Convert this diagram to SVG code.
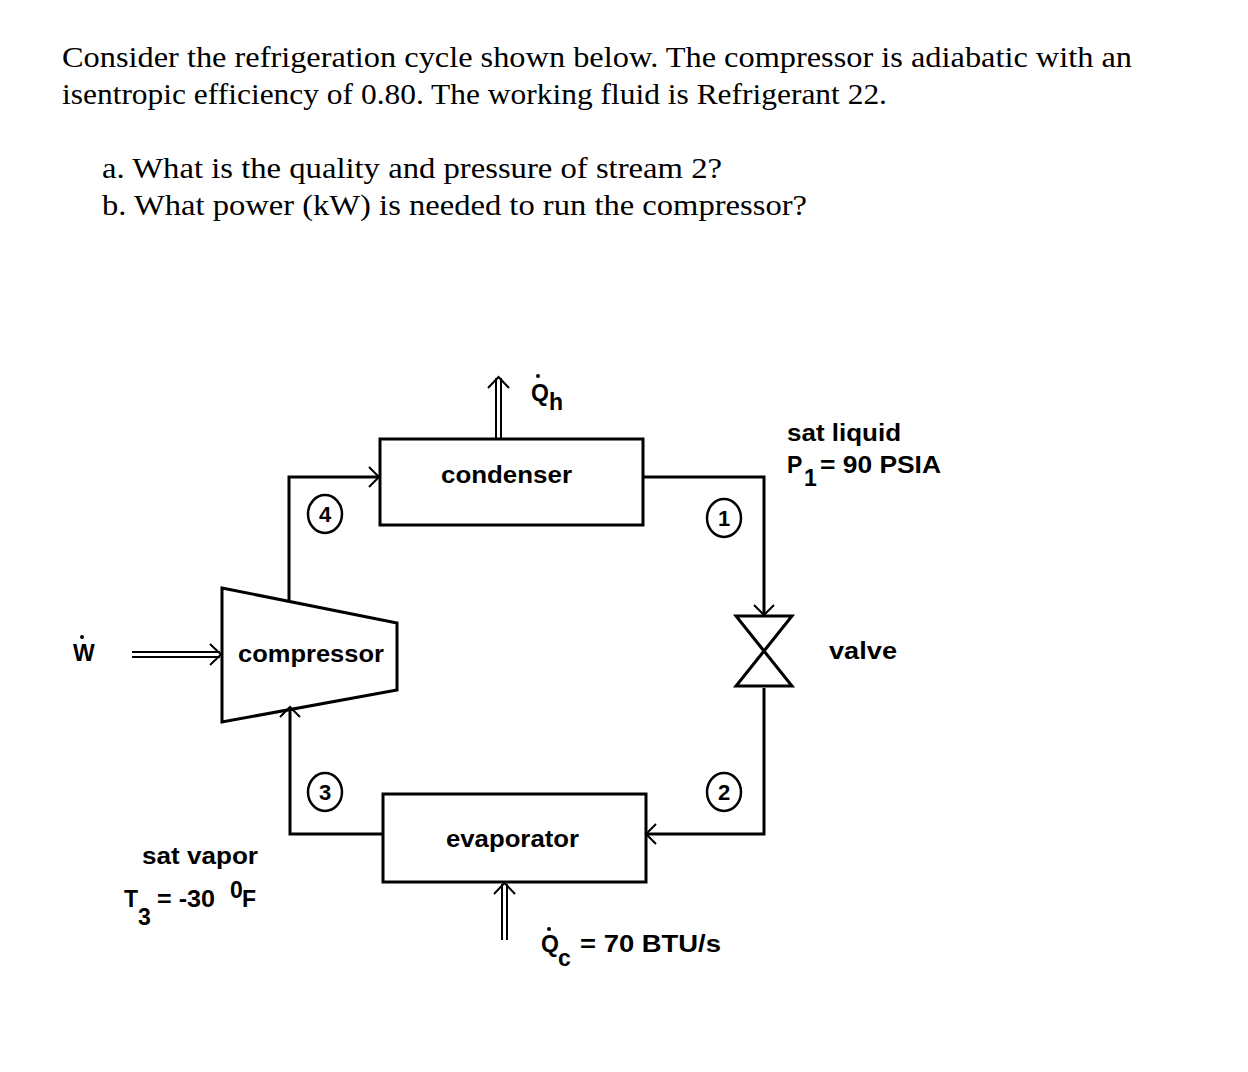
<svg xmlns="http://www.w3.org/2000/svg" width="1248" height="1072" viewBox="0 0 1248 1072">
<style>
.q{font-family:"Liberation Serif",serif;font-size:30px;fill:#000}
.l{font-family:"Liberation Sans",Arial,sans-serif;font-size:23px;fill:#000;font-weight:bold}
.s{font-family:"Liberation Sans",Arial,sans-serif;font-size:22px;fill:#000;font-weight:bold}
.k{fill:none;stroke:#000;stroke-width:3}
.t{fill:none;stroke:#000;stroke-width:2}
.c{fill:none;stroke:#000;stroke-width:2.5}
</style>
<rect width="1248" height="1072" fill="#fff"/>
<text class="q" x="62" y="67" textLength="1070" lengthAdjust="spacingAndGlyphs">Consider the refrigeration cycle shown below.  The compressor is adiabatic with an</text>
<text class="q" x="62" y="104" textLength="825" lengthAdjust="spacingAndGlyphs">isentropic efficiency of 0.80. The working fluid is Refrigerant 22.</text>
<text class="q" x="102" y="178" textLength="620" lengthAdjust="spacingAndGlyphs">a.  What is the quality and pressure of stream 2?</text>
<text class="q" x="102" y="215" textLength="705" lengthAdjust="spacingAndGlyphs">b.  What power (kW) is needed to run the compressor?</text>
<g id="connectors">
<path class="k" d="M289,600 V477 H379"/>
<path class="t" d="M369,467 L379,477 L369,487"/>
<path class="k" d="M643,477 H764 V615"/>
<path class="t" d="M754,605 L764,615 L774,605"/>
<path class="k" d="M764,688 V834 H646"/>
<path class="t" d="M656,824 L646,834 L656,844"/>
<path class="k" d="M382,834 H290 V707"/>
<path class="t" d="M280,717 L290,707 L300,717"/>
<path class="t" d="M496,439 V378 M501,439 V378 M488,388 L498.5,377 L509,388"/>
<path class="t" d="M502,940 V884 M507,940 V884 M494,894 L504.5,883 L515,894"/>
<path class="t" d="M132,652 H220 M132,657 H220 M210,644 L221,654.5 L210,665"/>
</g>
<g id="condenser"><rect class="k" x="380" y="439" width="263" height="86"/><text class="l" x="441" y="483" textLength="131" lengthAdjust="spacingAndGlyphs">condenser</text></g>
<g id="evaporator"><rect class="k" x="383" y="794" width="263" height="88"/><text class="l" x="446" y="847" textLength="133" lengthAdjust="spacingAndGlyphs">evaporator</text></g>
<g id="compressor"><path class="k" d="M222,588 L397,623 L397,690 L222,722 Z"/><text class="l" x="238" y="662" textLength="146" lengthAdjust="spacingAndGlyphs">compressor</text></g>
<g id="valve"><path class="k" d="M736,616 H792 L736,686 H792 Z"/></g>
<g id="s1"><ellipse class="c" cx="724" cy="518" rx="17" ry="19"/><text class="s" x="724" y="526" text-anchor="middle">1</text></g>
<g id="s2"><ellipse class="c" cx="724" cy="792" rx="17" ry="19"/><text class="s" x="724" y="800" text-anchor="middle">2</text></g>
<g id="s3"><ellipse class="c" cx="325" cy="792" rx="17" ry="19"/><text class="s" x="325" y="800" text-anchor="middle">3</text></g>
<g id="s4"><ellipse class="c" cx="325" cy="514" rx="17" ry="19"/><text class="s" x="325" y="522" text-anchor="middle">4</text></g>
<g id="labels">
<text class="l" x="531" y="401" font-size="20">Q</text><text class="l" x="549" y="410">h</text><circle cx="538" cy="376" r="2"/>
<text class="l" x="73" y="661" font-size="20">W</text><circle cx="82" cy="637" r="2"/>
<text class="l" x="787" y="441" textLength="114" lengthAdjust="spacingAndGlyphs">sat liquid</text>
<text class="l" x="787" y="473">P</text><text class="l" x="804" y="486" font-size="18">1</text><text class="l" x="820" y="473" textLength="121" lengthAdjust="spacingAndGlyphs">= 90 PSIA</text>
<text class="l" x="829" y="659" textLength="68" lengthAdjust="spacingAndGlyphs">valve</text>
<text class="l" x="142" y="864" textLength="116" lengthAdjust="spacingAndGlyphs">sat vapor</text>
<text class="l" x="124" y="907">T</text><text class="l" x="138" y="925" font-size="18">3</text><text class="l" x="157" y="907" textLength="58" lengthAdjust="spacingAndGlyphs">= -30</text><text class="l" x="230" y="898" font-size="16">0</text><text class="l" x="242" y="907">F</text>
<text class="l" x="541" y="952">Q</text><text class="l" x="558" y="966">c</text><circle cx="549" cy="929" r="2"/><text class="l" x="580" y="952" textLength="141" lengthAdjust="spacingAndGlyphs">= 70 BTU/s</text>
</g>
</svg>
